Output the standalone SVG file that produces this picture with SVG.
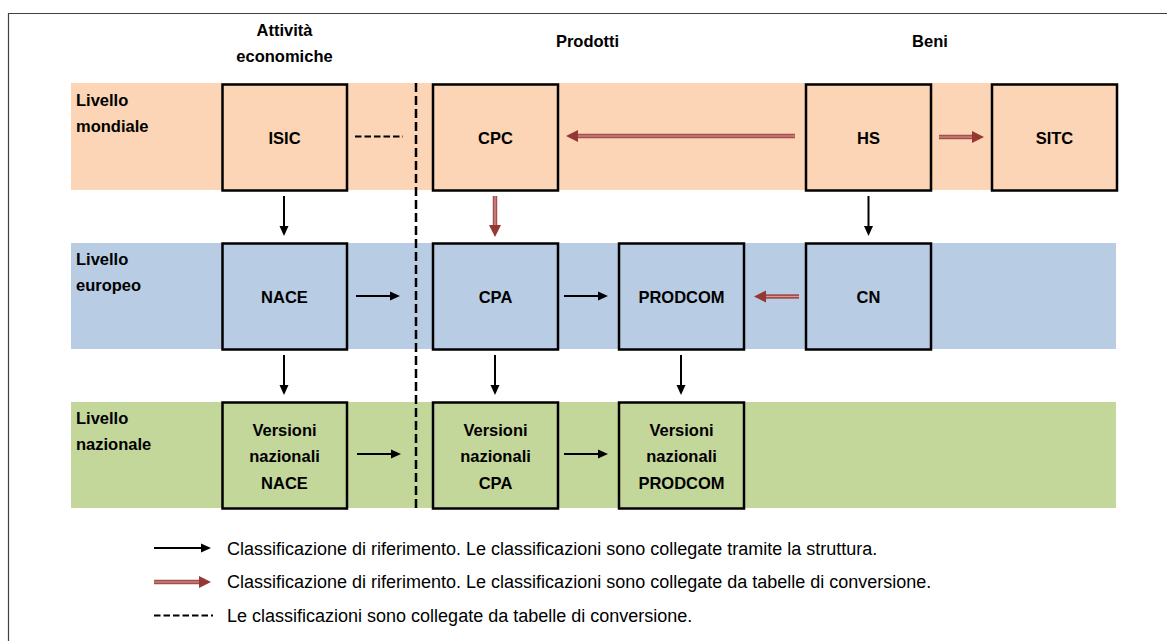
<svg xmlns="http://www.w3.org/2000/svg" width="1167" height="641" viewBox="0 0 1167 641">
<style>
.bg{fill:#ffffff}
.frame{fill:none;stroke:#404040;stroke-width:1.2}
.bandW{fill:#fbd5b5}
.bandE{fill:#b8cce4}
.bandN{fill:#c4d79b}
.boxW{fill:#fbd5b5;stroke:#000;stroke-width:2.5}
.boxE{fill:#b8cce4;stroke:#000;stroke-width:2.5}
.boxN{fill:#c4d79b;stroke:#000;stroke-width:2.5}
.lbl{font-family:"Liberation Sans",Arial,sans-serif;font-weight:bold;font-size:16.5px;fill:#000}
.box{font-family:"Liberation Sans",Arial,sans-serif;font-weight:bold;font-size:16.5px;fill:#000;text-anchor:middle}
.hdr{font-family:"Liberation Sans",Arial,sans-serif;font-weight:bold;font-size:16.5px;fill:#000;text-anchor:middle}
.leg{font-family:"Liberation Sans",Arial,sans-serif;font-size:18px;fill:#000}
.blk{stroke:#000;stroke-width:2;fill:none;marker-end:url(#ah)}
.redo{stroke:#a3504d;stroke-width:4.5;fill:none;marker-end:url(#rh)}
.redi{stroke:#d99694;stroke-width:1.2;fill:none}
.dash{stroke:#000;stroke-width:2.2;fill:none;stroke-dasharray:6.5 3}
.vdash{stroke:#000;stroke-width:2.5;fill:none;stroke-dasharray:9 4}
</style>
<defs>
<marker id="ah" markerUnits="userSpaceOnUse" markerWidth="11" markerHeight="10" refX="1" refY="5" orient="auto">
<path d="M0,0.5 L10,5 L0,9.5 z" fill="#000"/>
</marker>
<marker id="rh" markerUnits="userSpaceOnUse" markerWidth="13" markerHeight="13" refX="1" refY="6.5" orient="auto">
<path d="M0,0.5 L12,6.5 L0,12.5 z" fill="#953735"/>
</marker>
</defs>
<rect class="bg" x="0" y="0" width="1167" height="641"/>
<path class="frame" d="M8.5,641 V13.5 H1167"/>

<g id="bands">
<rect class="bandW" x="71" y="83" width="1046" height="107"/>
<rect class="bandE" x="71" y="243" width="1045" height="106"/>
<rect class="bandN" x="71" y="402" width="1045" height="106"/>
</g>

<g id="headers">
<text class="hdr" x="284.5" y="36">Attività</text>
<text class="hdr" x="284.5" y="62">economiche</text>
<text class="hdr" x="587.5" y="47">Prodotti</text>
<text class="hdr" x="930" y="47">Beni</text>
</g>

<g id="level-labels">
<text class="lbl" x="76" y="106">Livello</text>
<text class="lbl" x="76" y="131.5">mondiale</text>
<text class="lbl" x="76" y="265">Livello</text>
<text class="lbl" x="76" y="290.5">europeo</text>
<text class="lbl" x="76" y="424">Livello</text>
<text class="lbl" x="76" y="449.5">nazionale</text>
</g>

<g id="node-isic"><rect class="boxW" x="222.5" y="84.5" width="124.5" height="106"/><text class="box" x="284.5" y="144">ISIC</text></g>
<g id="node-cpc"><rect class="boxW" x="433" y="84.5" width="125" height="106"/><text class="box" x="495.5" y="144">CPC</text></g>
<g id="node-hs"><rect class="boxW" x="806" y="84.5" width="125" height="106"/><text class="box" x="868.5" y="144">HS</text></g>
<g id="node-sitc"><rect class="boxW" x="992" y="84.5" width="125" height="106"/><text class="box" x="1054.5" y="144">SITC</text></g>

<g id="node-nace"><rect class="boxE" x="222.5" y="243.5" width="124.5" height="106"/><text class="box" x="284.5" y="302.5">NACE</text></g>
<g id="node-cpa"><rect class="boxE" x="433" y="243.5" width="125" height="106"/><text class="box" x="495.5" y="302.5">CPA</text></g>
<g id="node-prodcom"><rect class="boxE" x="619" y="243.5" width="125" height="106"/><text class="box" x="681.5" y="302.5">PRODCOM</text></g>
<g id="node-cn"><rect class="boxE" x="806" y="243.5" width="125" height="106"/><text class="box" x="868.5" y="302.5">CN</text></g>

<g id="node-vn-nace"><rect class="boxN" x="222.5" y="402.5" width="124.5" height="106"/><text class="box" x="284.5" y="436">Versioni</text><text class="box" x="284.5" y="462">nazionali</text><text class="box" x="284.5" y="489">NACE</text></g>
<g id="node-vn-cpa"><rect class="boxN" x="433" y="402.5" width="125" height="106"/><text class="box" x="495.5" y="436">Versioni</text><text class="box" x="495.5" y="462">nazionali</text><text class="box" x="495.5" y="489">CPA</text></g>
<g id="node-vn-prodcom"><rect class="boxN" x="619" y="402.5" width="125" height="106"/><text class="box" x="681.5" y="436">Versioni</text><text class="box" x="681.5" y="462">nazionali</text><text class="box" x="681.5" y="489">PRODCOM</text></g>

<g id="connectors">
<line class="vdash" x1="416" y1="83" x2="416" y2="511"/>
<line class="dash" x1="355" y1="136.5" x2="403" y2="136.5"/>
<line class="blk" x1="284" y1="196" x2="284" y2="227"/>
<line class="blk" x1="868.5" y1="196" x2="868.5" y2="227"/>
<line class="blk" x1="284" y1="355" x2="284" y2="386"/>
<line class="blk" x1="495" y1="355" x2="495" y2="386"/>
<line class="blk" x1="681" y1="355" x2="681" y2="386"/>
<line class="blk" x1="356" y1="296" x2="391" y2="296"/>
<line class="blk" x1="564" y1="296" x2="599" y2="296"/>
<line class="blk" x1="357" y1="454" x2="392" y2="454"/>
<line class="blk" x1="564" y1="454" x2="599" y2="454"/>
<line class="redo" x1="795" y1="136" x2="577" y2="136"/><line class="redi" x1="795" y1="136" x2="578" y2="136"/>
<line class="redo" x1="939" y1="137" x2="973" y2="137"/><line class="redi" x1="939" y1="137" x2="972" y2="137"/>
<line class="redo" x1="495" y1="196" x2="495" y2="226"/><line class="redi" x1="495" y1="196" x2="495" y2="225"/>
<line class="redo" x1="799" y1="296.5" x2="765" y2="296.5"/><line class="redi" x1="799" y1="296.5" x2="766" y2="296.5"/>
</g>

<g id="legend">
<line class="blk" x1="154" y1="548" x2="202" y2="548"/>
<line class="redo" x1="154" y1="582" x2="200" y2="582"/><line class="redi" x1="154" y1="582" x2="199" y2="582"/>
<line class="dash" x1="154" y1="615.5" x2="213" y2="615.5"/>
<text class="leg" x="227" y="555">Classificazione di riferimento. Le classificazioni sono collegate tramite la struttura.</text>
<text class="leg" x="227" y="588">Classificazione di riferimento. Le classificazioni sono collegate da tabelle di conversione.</text>
<text class="leg" x="227" y="622">Le classificazioni sono collegate da tabelle di conversione.</text>
</g>
</svg>
